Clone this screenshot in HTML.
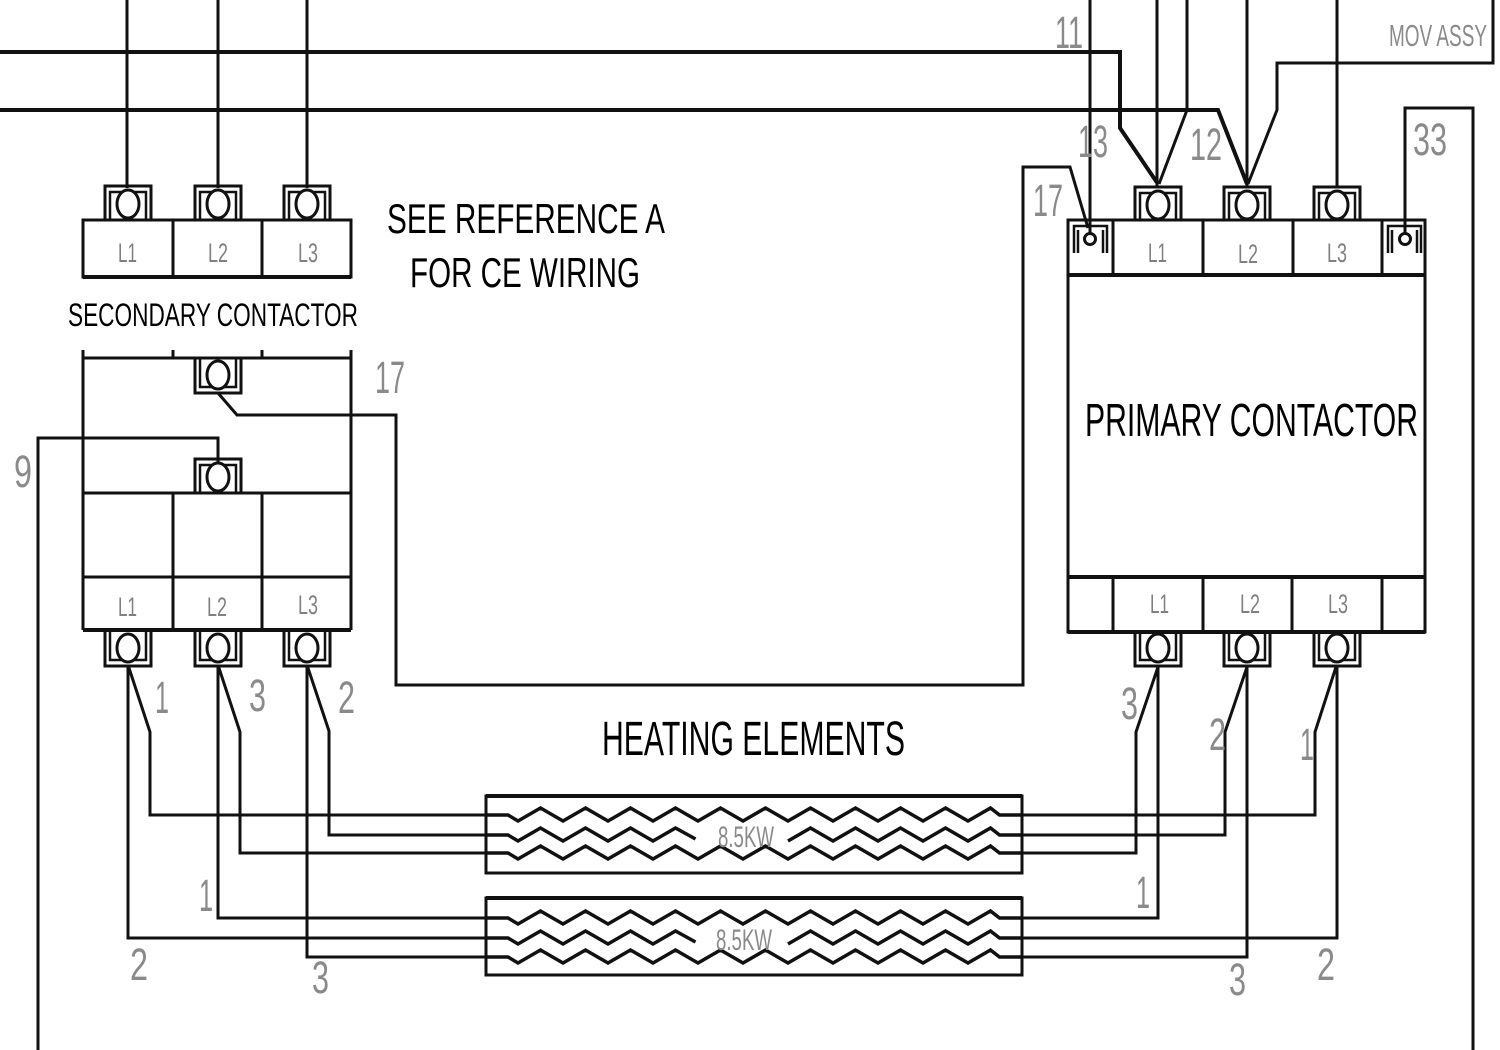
<!DOCTYPE html>
<html><head><meta charset="utf-8"><style>
html,body{margin:0;padding:0;background:#fff;}
svg{display:block;}
text{font-family:"Liberation Sans",Arial,sans-serif;}
.g{fill:#8a8a8a;}
.lb{fill:#808080;}
</style></head><body>
<svg width="1500" height="1050" viewBox="0 0 1500 1050" xmlns="http://www.w3.org/2000/svg">
<defs>
<g id="term">
 <path d="M-23,34 V0 H23 V34" fill="none" stroke="#111" stroke-width="3"/>
 <path d="M-18,34 V6 H18 V34" fill="none" stroke="#111" stroke-width="2.5"/>
 <ellipse cx="0" cy="18" rx="11" ry="14" fill="#fff" stroke="#111" stroke-width="3"/>
</g>
</defs>
<g fill="none" stroke="#111" stroke-width="3" stroke-linejoin="miter">
<!-- bus lines -->
<path d="M0,52 H1120 V128 L1158,184" stroke-width="4"/>
<path d="M0,110 H1218 L1247,184" stroke-width="4"/>
<!-- secondary feed verticals -->
<path d="M127,0 V188 M218,0 V188 M307,0 V188"/>
<!-- primary feed verticals -->
<path d="M1090,0 V234 M1157,0 V188 M1247,0 V188 M1337,0 V188"/>
<path d="M1187,0 V110 L1159,184"/>
<!-- MOV -->
<path d="M1493,0 V63 H1277 V110 L1248,184"/>
<!-- 33 -->
<path d="M1405,234 V108 H1473 V1050"/>
<!-- secondary top strip -->
<rect x="83" y="220" width="268" height="57"/>
<path d="M173,220 V277 M262,220 V277"/>
<path d="M83,277 H351" stroke-width="4"/>
<!-- secondary lower body -->
<path d="M83,350 V630 M351,350 V630 M83,358 H351 M173,350 V358 M262,350 V358"/>
<path d="M83,493 H351 M173,493 V630 M262,493 V630 M83,577 H351"/>
<path d="M83,630 H351" stroke-width="4"/>
<!-- wire 17 -->
<path d="M218,393 L237,415 H396 V685 H1023 V167 H1070 L1088,228"/>
<!-- wire 9 -->
<path d="M38,1050 V438 H218 V462"/>
<!-- primary -->
<rect x="1068" y="220" width="357" height="412"/>
<path d="M1068,275 H1425 M1068,577 H1425" stroke-width="4"/>
<path d="M1113,220 V275 M1203,220 V275 M1293,220 V275 M1382,220 V275"/>
<path d="M1113,577 V632 M1203,577 V632 M1292,577 V632 M1382,577 V632"/>
<path d="M1068,632 H1425" stroke-width="4"/>
<!-- small terminals in primary -->
<path d="M1074,253 V226 H1107 V253 M1078,253 V230 M1103,253 V230" stroke-width="2.5"/>
<path d="M1388,253 V226 H1421 V253 M1392,253 V230 M1417,253 V230" stroke-width="2.5"/>
<!-- secondary bottom wires -->
<path d="M128,665 L150,732 V815 H485"/>
<path d="M218,665 L240,732 V853 H485"/>
<path d="M307,665 L329,731 V835 H485"/>
<path d="M128,665 V938 H485"/>
<path d="M218,665 V918 H485"/>
<path d="M307,665 V957 H485"/>
<!-- primary bottom wires -->
<path d="M1158,667 L1136,732 V853 H1022"/>
<path d="M1247,667 L1225,732 V835 H1022"/>
<path d="M1336,667 L1315,732 V815 H1022"/>
<path d="M1158,667 V918 H1022"/>
<path d="M1247,667 V957 H1022"/>
<path d="M1337,667 V938 H1022"/>
<!-- heater boxes -->
<rect x="486" y="796" width="536" height="77"/>
<path d="M486,796 H1022" stroke-width="4"/>
<rect x="486" y="898" width="536" height="77"/>
<path d="M486,898 H1022" stroke-width="4"/>
<g stroke-width="3.5">
<!-- zigzags heater 1 -->
<path d="M485,815 H508 l10,6 l22.5,-13 l22.5,13 l22.5,-13 l22.5,13 l22.5,-13 l22.5,13 l22.5,-13 l22.5,13 l22.5,-13 l22.5,13 l22.5,-13 l22.5,13 l22.5,-13 l22.5,13 l22.5,-13 l22.5,13 l22.5,-13 l22.5,13 l22.5,-13 l22.5,13 l22.5,-13 l9,7 H1022"/>
<path d="M485,835 H508 l10,6 l22.5,-13 l22.5,13 l22.5,-13 l22.5,13 l22.5,-13 l22.5,13 l22.5,-13 l20,11"/>
<path d="M788,841 l22.5,-13 l22.5,13 l22.5,-13 l22.5,13 l22.5,-13 l22.5,13 l22.5,-13 l22.5,13 l22.5,-13 l9,7 H1022"/>
<path d="M485,853 H508 l10,6 l22.5,-13 l22.5,13 l22.5,-13 l22.5,13 l22.5,-13 l22.5,13 l22.5,-13 l22.5,13 l22.5,-13 l22.5,13 l22.5,-13 l22.5,13 l22.5,-13 l22.5,13 l22.5,-13 l22.5,13 l22.5,-13 l22.5,13 l22.5,-13 l22.5,13 l22.5,-13 l9,7 H1022"/>
<!-- zigzags heater 2 -->
<path d="M485,918 H508 l10,6 l22.5,-13 l22.5,13 l22.5,-13 l22.5,13 l22.5,-13 l22.5,13 l22.5,-13 l22.5,13 l22.5,-13 l22.5,13 l22.5,-13 l22.5,13 l22.5,-13 l22.5,13 l22.5,-13 l22.5,13 l22.5,-13 l22.5,13 l22.5,-13 l22.5,13 l22.5,-13 l9,7 H1022"/>
<path d="M485,938 H508 l10,6 l22.5,-13 l22.5,13 l22.5,-13 l22.5,13 l22.5,-13 l22.5,13 l22.5,-13 l20,11"/>
<path d="M788,944 l22.5,-13 l22.5,13 l22.5,-13 l22.5,13 l22.5,-13 l22.5,13 l22.5,-13 l22.5,13 l22.5,-13 l9,7 H1022"/>
<path d="M485,957 H508 l10,6 l22.5,-13 l22.5,13 l22.5,-13 l22.5,13 l22.5,-13 l22.5,13 l22.5,-13 l22.5,13 l22.5,-13 l22.5,13 l22.5,-13 l22.5,13 l22.5,-13 l22.5,13 l22.5,-13 l22.5,13 l22.5,-13 l22.5,13 l22.5,-13 l22.5,13 l22.5,-13 l9,7 H1022"/>
</g>
</g>
<!-- small circles -->
<circle cx="1090" cy="239" r="5.5" fill="#fff" stroke="#111" stroke-width="3"/>
<circle cx="1405" cy="239" r="5.5" fill="#fff" stroke="#111" stroke-width="3"/>
<!-- terminals -->
<use href="#term" transform="translate(128,186)"/>
<use href="#term" transform="translate(218,186)"/>
<use href="#term" transform="translate(307,186)"/>
<use href="#term" transform="translate(218,393) scale(1,-1)"/>
<use href="#term" transform="translate(218,459)"/>
<use href="#term" transform="translate(128,666) scale(1,-1)"/>
<use href="#term" transform="translate(218,666) scale(1,-1)"/>
<use href="#term" transform="translate(307,666) scale(1,-1)"/>
<use href="#term" transform="translate(1158,187)"/>
<use href="#term" transform="translate(1247,187)"/>
<use href="#term" transform="translate(1337,187)"/>
<use href="#term" transform="translate(1158,666) scale(1,-1)"/>
<use href="#term" transform="translate(1247,666) scale(1,-1)"/>
<use href="#term" transform="translate(1337,666) scale(1,-1)"/>

<!-- main labels -->
<text x="387" y="233" font-size="42" textLength="278" lengthAdjust="spacingAndGlyphs">SEE REFERENCE A</text>
<text x="410" y="287" font-size="42" textLength="230" lengthAdjust="spacingAndGlyphs">FOR CE WIRING</text>
<text x="68" y="326" font-size="32" textLength="290" lengthAdjust="spacingAndGlyphs">SECONDARY CONTACTOR</text>
<text x="1085" y="436" font-size="46" textLength="333" lengthAdjust="spacingAndGlyphs">PRIMARY CONTACTOR</text>
<text x="602" y="755" font-size="48" textLength="303" lengthAdjust="spacingAndGlyphs">HEATING ELEMENTS</text>

<!-- L labels -->
<g class="lb" font-size="27">
<text x="118" y="262" textLength="19" lengthAdjust="spacingAndGlyphs">L1</text>
<text x="208" y="262" textLength="20" lengthAdjust="spacingAndGlyphs">L2</text>
<text x="298" y="262" textLength="20" lengthAdjust="spacingAndGlyphs">L3</text>
<text x="118" y="616" textLength="19" lengthAdjust="spacingAndGlyphs">L1</text>
<text x="207" y="616" textLength="20" lengthAdjust="spacingAndGlyphs">L2</text>
<text x="298" y="614" textLength="20" lengthAdjust="spacingAndGlyphs">L3</text>
<text x="1148" y="262" textLength="19" lengthAdjust="spacingAndGlyphs">L1</text>
<text x="1238" y="263" textLength="20" lengthAdjust="spacingAndGlyphs">L2</text>
<text x="1327" y="262" textLength="20" lengthAdjust="spacingAndGlyphs">L3</text>
<text x="1150" y="613" textLength="19" lengthAdjust="spacingAndGlyphs">L1</text>
<text x="1240" y="613" textLength="20" lengthAdjust="spacingAndGlyphs">L2</text>
<text x="1328" y="613" textLength="20" lengthAdjust="spacingAndGlyphs">L3</text>
</g>

<!-- gray numeric labels -->
<g class="g" font-size="45">
<text x="1055" y="48" textLength="28" lengthAdjust="spacingAndGlyphs">11</text>
<text x="1078" y="157" textLength="30" lengthAdjust="spacingAndGlyphs">13</text>
<text x="1190" y="160" textLength="32" lengthAdjust="spacingAndGlyphs">12</text>
<text x="1033" y="216" textLength="30" lengthAdjust="spacingAndGlyphs">17</text>
<text x="1413" y="155" textLength="34" lengthAdjust="spacingAndGlyphs">33</text>
<text x="375" y="393" textLength="30" lengthAdjust="spacingAndGlyphs">17</text>
<text x="14" y="487" textLength="18" lengthAdjust="spacingAndGlyphs">9</text>
<text x="155" y="713" textLength="14" lengthAdjust="spacingAndGlyphs">1</text>
<text x="249" y="711" textLength="17" lengthAdjust="spacingAndGlyphs">3</text>
<text x="338" y="713" textLength="17" lengthAdjust="spacingAndGlyphs">2</text>
<text x="199" y="911" textLength="14" lengthAdjust="spacingAndGlyphs">1</text>
<text x="130" y="980" textLength="18" lengthAdjust="spacingAndGlyphs">2</text>
<text x="312" y="993" textLength="17" lengthAdjust="spacingAndGlyphs">3</text>
<text x="1121" y="719" textLength="17" lengthAdjust="spacingAndGlyphs">3</text>
<text x="1209" y="750" textLength="17" lengthAdjust="spacingAndGlyphs">2</text>
<text x="1300" y="760" textLength="14" lengthAdjust="spacingAndGlyphs">1</text>
<text x="1136" y="908" textLength="14" lengthAdjust="spacingAndGlyphs">1</text>
<text x="1229" y="995" textLength="17" lengthAdjust="spacingAndGlyphs">3</text>
<text x="1317" y="980" textLength="18" lengthAdjust="spacingAndGlyphs">2</text>
</g>
<text class="g" x="1389" y="46" font-size="31" textLength="98" lengthAdjust="spacingAndGlyphs">MOV ASSY</text>
<g class="g" font-size="30">
<text x="718" y="847" textLength="56" lengthAdjust="spacingAndGlyphs">8.5KW</text>
<text x="716" y="950" textLength="56" lengthAdjust="spacingAndGlyphs">8.5KW</text>
</g>
</svg>
</body></html>
